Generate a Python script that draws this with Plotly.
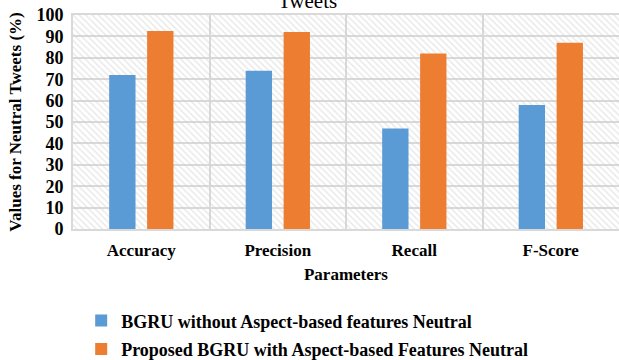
import plotly.graph_objects as go

categories = ["Accuracy", "Precision", "Recall", "F-Score"]
bgru_without = [72, 74, 47, 58]
bgru_with = [92.5, 92, 82, 87]
series_names = ["BGRU without Aspect-based features Neutral",
                "Proposed BGRU with Aspect-based Features Neutral"]
y_ticks = [0, 10, 20, 30, 40, 50, 60, 70, 80, 90, 100]

FONT = "Liberation Serif"
xpos = list(range(len(categories)))

fig = go.Figure()
# hatched plot background
fig.add_trace(go.Bar(
    x=[(len(categories) - 1) / 2], y=[100], width=[len(categories)],
    marker=dict(color="rgba(0,0,0,0)", line=dict(width=0),
                pattern=dict(shape="\\", fgcolor="#cfcfcf", bgcolor="rgba(0,0,0,0)",
                             size=4.5, solidity=0.3)),
    showlegend=False, hoverinfo="skip"))
fig.add_trace(go.Bar(x=xpos, y=bgru_without, name=series_names[0],
                     marker=dict(color="#5b9bd5", line=dict(width=0)),
                     width=0.193, offset=-0.235, legendgroup="a"))
fig.add_trace(go.Bar(x=xpos, y=bgru_with, name=series_names[1],
                     marker=dict(color="#ed7d31", line=dict(width=0)),
                     width=0.193, offset=0.043, legendgroup="b"))

fig.update_layout(
    width=619, height=360,
    margin=dict(l=73, r=0, t=15, b=131, autoexpand=False),
    barmode="overlay",
    plot_bgcolor="white", paper_bgcolor="white",
    font=dict(family=FONT, color="black"),
    legend=dict(x=0.015, xanchor="left", yref="container", y=0.16, yanchor="top",
                font=dict(family=FONT, size=18, color="black", weight="bold"),
                tracegroupgap=2, traceorder="grouped",
                itemwidth=30, bgcolor="rgba(0,0,0,0)"),
    annotations=[dict(text="Tweets", x=0.43, xref="paper", y=1.0, yref="paper",
                      yanchor="bottom", showarrow=False,
                      font=dict(family=FONT, size=21, color="black"))],
)

fig.update_xaxes(
    automargin=False,
    range=[-0.5, len(categories) - 0.5],
    tickvals=xpos, ticktext=categories, ticks="",
    tickfont=dict(family=FONT, size=17, color="black", weight="bold"),
    ticklabelstandoff=5,
    showgrid=False,
    minor=dict(tickvals=[i - 0.5 for i in range(len(categories) + 1)],
               showgrid=True, gridcolor="#d9d9d9", gridwidth=2, ticks=""),
    showline=True, linecolor="#d9d9d9", linewidth=2, mirror=True,
    title=dict(text="<b>Parameters</b>", font=dict(family=FONT, size=17, color="black"),
               standoff=9),
    zeroline=False,
)
fig.update_yaxes(
    automargin=False,
    range=[0, 100], tickvals=y_ticks,
    tickfont=dict(family=FONT, size=18, color="black", weight="bold"),
    showgrid=True, gridcolor="#d9d9d9", gridwidth=2,
    showline=True, linecolor="#d9d9d9", linewidth=2, mirror=True,
    zeroline=False, ticks="", ticklabelstandoff=4,
    title=dict(text="<b>Values for Neutral Tweets (%)</b>",
               font=dict(family=FONT, size=17, color="black"), standoff=10),
)

fig.write_html("out.html", config={"displayModeBar": False},
               post_script="document.body.style.margin='0';")
